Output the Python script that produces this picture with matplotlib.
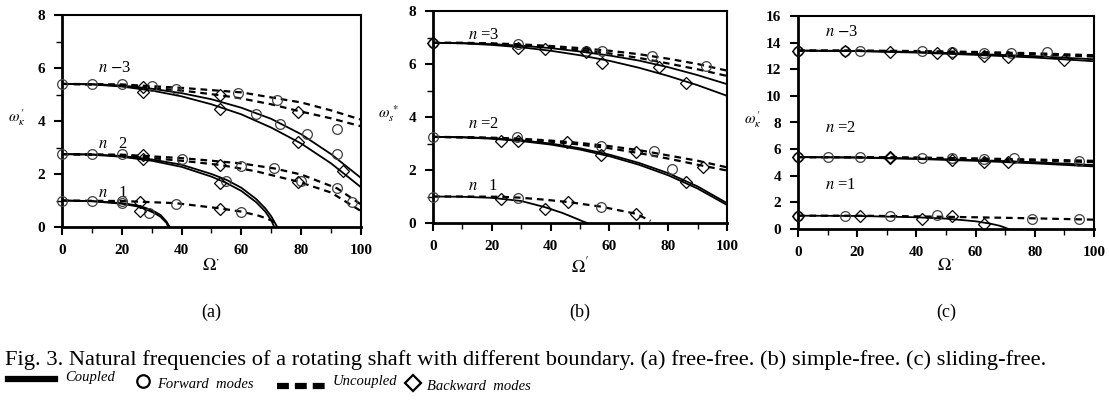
import numpy as np
import matplotlib
matplotlib.use("Agg")
import matplotlib.pyplot as plt
from matplotlib.lines import Line2D

plt.rcParams["font.family"] = ["Liberation Serif", "DejaVu Serif"]
plt.rcParams["mathtext.fontset"] = "stix"

W, H = 1109, 401

# ---------------- panel (a) free-free ----------------
A_COUPLED = [
    ([0, 10, 20, 30, 40, 50, 60, 70, 80, 90, 100],
     [5.4, 5.39, 5.34, 5.22, 5.05, 4.82, 4.5, 4.08, 3.5, 2.75, 1.85]),
    ([0, 10, 20, 30, 40, 50, 60, 70, 80, 90, 100],
     [5.4, 5.38, 5.3, 5.15, 4.93, 4.63, 4.25, 3.75, 3.15, 2.4, 1.5]),
    ([0, 10, 20, 30, 40, 50, 55, 60, 65, 68, 70, 72],
     [2.75, 2.74, 2.68, 2.55, 2.35, 2.0, 1.78, 1.48, 1.05, 0.7, 0.4, 0.0]),
    ([0, 10, 20, 30, 40, 50, 55, 60, 65, 68, 70, 71],
     [2.75, 2.73, 2.65, 2.5, 2.27, 1.9, 1.66, 1.36, 0.93, 0.58, 0.25, 0.0]),
    ([0, 10, 20, 25, 28, 31, 33, 35, 36],
     [1.0, 0.98, 0.9, 0.82, 0.72, 0.58, 0.45, 0.2, 0.0]),
    ([0, 10, 20, 25, 28, 31, 33, 35, 35.5],
     [1.0, 0.97, 0.88, 0.78, 0.67, 0.52, 0.38, 0.15, 0.0]),
]
A_UNCOUPLED = [
    ([0, 20, 40, 60, 72, 80, 90, 100],
     [5.4, 5.38, 5.25, 5.08, 4.85, 4.7, 4.4, 4.05]),
    ([0, 20, 40, 53, 60, 70, 79, 90, 100],
     [5.4, 5.35, 5.15, 4.97, 4.85, 4.63, 4.38, 4.1, 3.8]),
    ([0, 20, 40, 60, 71, 80, 92, 100],
     [2.75, 2.73, 2.6, 2.4, 2.21, 1.98, 1.46, 0.85]),
    ([0, 20, 40, 53, 65, 79, 90, 100],
     [2.75, 2.7, 2.5, 2.34, 2.1, 1.71, 1.3, 0.6]),
    ([0, 20, 27, 38, 53, 60, 66, 70, 72],
     [1.0, 0.98, 0.95, 0.9, 0.7, 0.58, 0.42, 0.25, 0.12]),
]
A_FWD_X = [0, 10, 20, 30, 38, 59, 65, 72, 73, 82, 92, 92,
           0, 10, 20, 40, 55, 60, 71, 80, 92, 97,
           0, 10, 20, 20, 29, 38, 60]
A_FWD_Y = [5.4, 5.4, 5.4, 5.32, 5.22, 5.05, 4.28, 4.78, 3.9, 3.5, 3.7, 2.75,
           2.75, 2.75, 2.75, 2.55, 1.75, 2.32, 2.21, 1.75, 1.46, 0.95,
           1.0, 1.0, 1.0, 0.9, 0.52, 0.88, 0.58]
A_BWD_X = [27, 27, 53, 53, 79, 79, 94, 27, 27, 53, 53, 79, 26, 26, 53]
A_BWD_Y = [5.3, 5.1, 4.97, 4.47, 4.35, 3.2, 2.1,
           2.72, 2.55, 2.35, 1.65, 1.7, 0.95, 0.6, 0.68]

# ---------------- panel (b) simple-free ----------------
B_GRID = [0, 10, 20, 30, 40, 50, 60, 70, 80, 90, 100]
B_COUPLED = [
    (B_GRID, [6.8, 6.79, 6.75, 6.69, 6.6, 6.47, 6.32, 6.13, 5.88, 5.58, 5.24]),
    (B_GRID, [6.8, 6.78, 6.72, 6.63, 6.5, 6.33, 6.12, 5.86, 5.55, 5.2, 4.8]),
    (B_GRID, [3.25, 3.24, 3.2, 3.12, 3.0, 2.82, 2.58, 2.27, 1.88, 1.38, 0.75]),
    (B_GRID, [3.25, 3.23, 3.18, 3.09, 2.96, 2.77, 2.52, 2.2, 1.8, 1.3, 0.68]),
    ([0, 10, 20, 30, 38, 44, 48, 51, 52.5],
     [1.0, 0.99, 0.95, 0.83, 0.6, 0.38, 0.2, 0.06, 0.0]),
]
B_UNCOUPLED = [
    (B_GRID, [6.8, 6.8, 6.78, 6.74, 6.68, 6.6, 6.5, 6.37, 6.2, 6.0, 5.75]),
    (B_GRID, [6.8, 6.79, 6.76, 6.71, 6.63, 6.53, 6.4, 6.23, 6.02, 5.8, 5.55]),
    (B_GRID, [3.25, 3.24, 3.22, 3.18, 3.11, 3.02, 2.9, 2.75, 2.55, 2.35, 2.1]),
    (B_GRID, [3.25, 3.23, 3.2, 3.15, 3.07, 2.96, 2.82, 2.64, 2.43, 2.2, 1.98]),
    ([0, 10, 23, 29, 38, 46, 57, 69, 74],
     [1.0, 1.0, 0.99, 0.96, 0.88, 0.79, 0.62, 0.35, 0.08]),
]
B_FWD_X = [0, 29, 52, 57.5, 74.5, 93, 0, 28.6, 57, 75, 81.3, 0, 29, 57]
B_FWD_Y = [6.8, 6.75, 6.5, 6.5, 6.3, 5.93, 3.25, 3.23, 2.92, 2.73, 2.05,
           1.0, 0.95, 0.6]
B_BWD_X = [0, 29, 38, 52, 57.5, 77, 86, 23, 29, 45.6, 57, 69, 86, 92,
           23, 38, 46, 69]
B_BWD_Y = [6.8, 6.6, 6.55, 6.45, 6.05, 5.9, 5.3, 3.1, 3.08, 3.04, 2.55,
           2.67, 1.54, 2.1, 0.92, 0.54, 0.79, 0.35]

# ---------------- panel (c) sliding-free ----------------
C_GRID = [0, 20, 40, 60, 80, 100]
C_COUPLED = [
    (C_GRID, [13.4, 13.38, 13.3, 13.15, 12.98, 12.75]),
    (C_GRID, [13.4, 13.36, 13.25, 13.08, 12.88, 12.6]),
    (C_GRID, [5.4, 5.38, 5.3, 5.18, 5.02, 4.8]),
    (C_GRID, [5.4, 5.36, 5.26, 5.12, 4.93, 4.7]),
    ([0, 20, 40, 50, 60, 65, 68, 70, 71],
     [1.0, 0.98, 0.88, 0.78, 0.58, 0.4, 0.25, 0.1, 0.0]),
]
C_UNCOUPLED = [
    (C_GRID, [13.4, 13.4, 13.37, 13.3, 13.2, 13.05]),
    (C_GRID, [13.4, 13.39, 13.33, 13.25, 13.12, 12.95]),
    (C_GRID, [5.4, 5.4, 5.37, 5.3, 5.22, 5.12]),
    (C_GRID, [5.4, 5.39, 5.34, 5.26, 5.15, 5.02]),
    (C_GRID, [1.0, 1.0, 0.95, 0.88, 0.8, 0.7]),
]
C_FWD_X = [0, 16, 21, 42, 52, 63, 72, 84,
           0, 10, 21, 42, 52, 63, 73, 95,
           0, 16, 31, 47, 79, 95]
C_FWD_Y = [13.4, 13.4, 13.4, 13.4, 13.3, 13.2, 13.2, 13.3,
           5.4, 5.4, 5.4, 5.35, 5.3, 5.25, 5.3, 5.1,
           1.0, 1.0, 1.0, 1.05, 0.75, 0.75]
C_BWD_X = [0, 16, 31, 47, 52, 63, 71, 90,
           0, 31, 31, 52, 63, 71,
           0, 21, 42, 52, 63]
C_BWD_Y = [13.4, 13.35, 13.3, 13.2, 13.2, 13.0, 12.9, 12.7,
           5.4, 5.4, 5.3, 5.2, 5.0, 5.0,
           1.0, 1.0, 0.75, 0.95, 0.4]

PANELS = [
    # rect in pixels: left, top, right, bottom
    dict(rect=(62, 15, 361, 227), ymax=8, yticks=[0, 2, 4, 6, 8], yminor=1,
         coupled=A_COUPLED, uncoupled=A_UNCOUPLED,
         fwd=(A_FWD_X, A_FWD_Y), bwd=(A_BWD_X, A_BWD_Y),
         nlabels=[(12, 6.0, "$n$ $-$3"), (12, 3.15, "$n$   2"), (12, 1.3, "$n$   1")],
         ylabel=r"$\omega_{\kappa}^{\,\prime}$", xlabel=r"$\Omega^{\cdot}$", tag="(a)"),
    dict(rect=(433, 11, 727, 223), ymax=8, yticks=[0, 2, 4, 6, 8], yminor=1,
         coupled=B_COUPLED, uncoupled=B_UNCOUPLED,
         fwd=(B_FWD_X, B_FWD_Y), bwd=(B_BWD_X, B_BWD_Y),
         nlabels=[(12, 7.1, "$n$ =3"), (12, 3.75, "$n$ =2"), (12, 1.4, "$n$   1")],
         ylabel=r"$\omega_{s}^{\,*}$", xlabel=r"$\Omega^{\prime}$", tag="(b)"),
    dict(rect=(798, 16, 1094, 229), ymax=16,
         yticks=[0, 2, 4, 6, 8, 10, 12, 14, 16], yminor=None,
         coupled=C_COUPLED, uncoupled=C_UNCOUPLED,
         fwd=(C_FWD_X, C_FWD_Y), bwd=(C_BWD_X, C_BWD_Y),
         nlabels=[(9, 14.8, "$n$ $-$3"), (9, 7.6, "$n$ =2"), (9, 3.3, "$n$ =1")],
         ylabel=r"$\omega_{\kappa}^{\,\prime}$", xlabel=r"$\Omega^{\cdot}$", tag="(c)"),
]


def fx(px):
    return px / W


def fy(py):
    return 1 - py / H


fig = plt.figure(figsize=(W / 100, H / 100), dpi=100)

for p in PANELS:
    l, t, r, b = p["rect"]
    ax = fig.add_axes([fx(l), fy(b), (r - l) / W, (b - t) / H])
    for xs, ys in p["uncoupled"]:
        ax.plot(xs, ys, color="black", lw=1.6, ls=(0, (3, 2.2)), zorder=2)
    for xs, ys in p["coupled"]:
        ax.plot(xs, ys, color="black", lw=1.3, zorder=3)
    ax.plot(*p["fwd"], ls="none", marker="o", ms=7, mfc="none",
            mec="0.25", mew=0.9, zorder=4, clip_on=False)
    ax.plot(*p["bwd"], ls="none", marker="D", ms=6, mfc="none",
            mec="black", mew=0.9, zorder=4, clip_on=False)
    for x, y, s in p["nlabels"]:
        ax.text(x, y, s, fontsize=12, ha="left", va="center")

    ax.set_xlim(0, 100)
    ax.set_ylim(0, p["ymax"])
    ax.set_xticks([0, 20, 40, 60, 80, 100])
    ax.set_xticks([10, 30, 50, 70, 90], minor=True)
    ax.set_yticks(p["yticks"])
    if p["yminor"]:
        ax.set_yticks(np.arange(1, p["ymax"], 2), minor=True)
    ax.tick_params(which="major", direction="out", length=6, width=1.5,
                   labelsize=11, pad=6)
    ax.tick_params(which="minor", direction="out", length=4, width=1.0)
    for lab in ax.get_xticklabels() + ax.get_yticklabels():
        lab.set_fontweight("bold")
    for side in ["left", "bottom"]:
        ax.spines[side].set_linewidth(2.0)
    for side in ["top", "right"]:
        ax.spines[side].set_linewidth(1.5)

    ymid = (t + b) / 2
    fig.text(fx(l - 45), fy(ymid - 3), p["ylabel"], fontsize=11,
             ha="center", va="center")
    fig.text(fx((l + r) / 2), fy(266), p["xlabel"], fontsize=13,
             ha="center", va="center")
    fig.text(fx((l + r) / 2), fy(312), p["tag"], fontsize=13,
             ha="center", va="center")

fig.text(fx(5), fy(360),
         "Fig. 3. Natural frequencies of a rotating shaft with different "
         "boundary. (a) free-free. (b) simple-free. (c) sliding-free.",
         fontsize=16.2, ha="left", va="center")

# legend strip along the bottom
fig.add_artist(Line2D([fx(8), fx(55)], [fy(379), fy(379)], color="black",
                      lw=4.5, transform=fig.transFigure))
fig.text(fx(65), fy(377), "Coupled", fontsize=10.5, style="italic",
         ha="left", va="center")
fig.add_artist(Line2D([fx(143)], [fy(381)], marker="o", ms=9, mfc="none",
                      mec="black", mew=1.6, transform=fig.transFigure))
fig.text(fx(157), fy(384), "Forward  modes", fontsize=10.5, style="italic",
         ha="left", va="center")
fig.add_artist(Line2D([fx(277), fx(325)], [fy(386), fy(386)], color="black",
                      lw=4.5, ls=(0, (1.9, 0.96)), transform=fig.transFigure))
fig.text(fx(333), fy(381), "Uncoupled", fontsize=10.5, style="italic",
         ha="left", va="center")
fig.add_artist(Line2D([fx(413)], [fy(383)], marker="D", ms=8, mfc="none",
                      mec="black", mew=1.6, transform=fig.transFigure))
fig.text(fx(427), fy(387), "Backward  modes", fontsize=10.5, style="italic",
         ha="left", va="center")

fig.savefig("out.png", dpi=100)
